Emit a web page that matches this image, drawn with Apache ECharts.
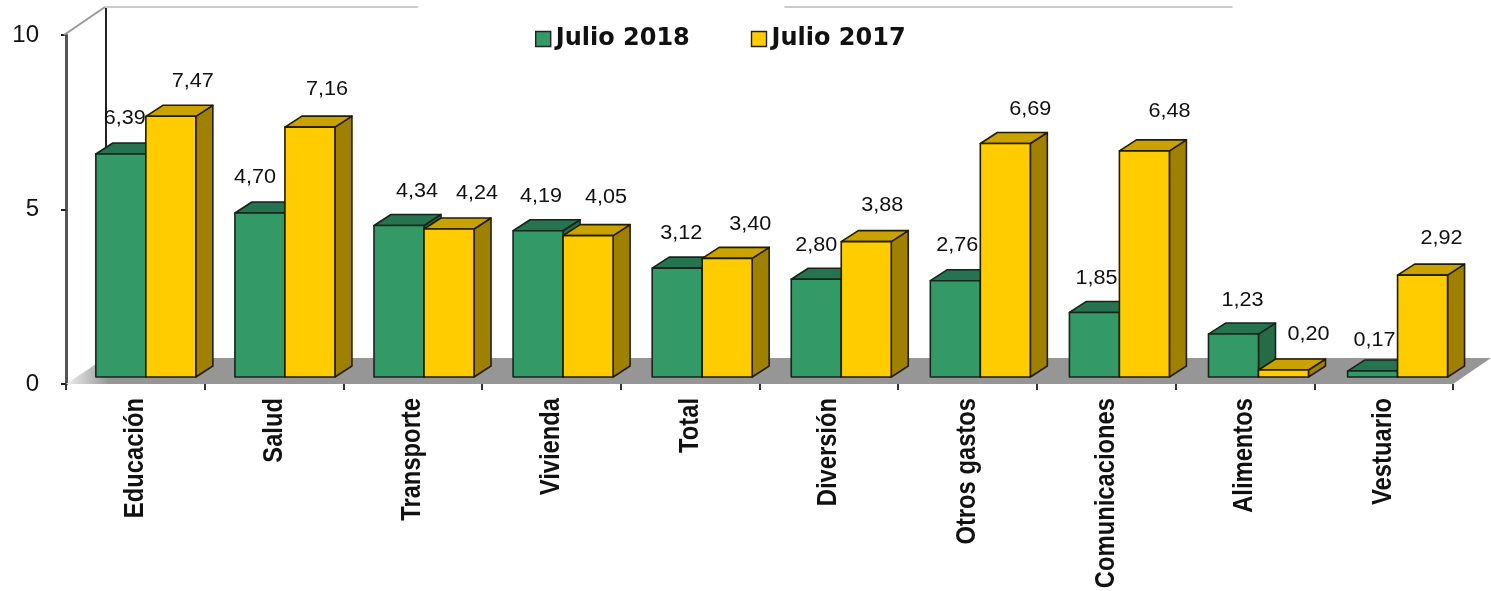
<!DOCTYPE html>
<html><head><meta charset="utf-8">
<script src="https://cdn.jsdelivr.net/npm/echarts@6/dist/echarts.min.js"></script>
<style>html,body{margin:0;padding:0;background:#fff}#c{width:1491px;height:591px}</style>
</head><body><div id="c"></div>
<script>
const categories = ['Educación','Salud','Transporte','Vivienda','Total','Diversión','Otros gastos','Comunicaciones','Alimentos','Vestuario'];
const julio2018 = [6.39,4.70,4.34,4.19,3.12,2.80,2.76,1.85,1.23,0.17];
const julio2017 = [7.47,7.16,4.24,4.05,3.40,3.88,6.69,6.48,0.20,2.92];
const yTicks = [0,5,10];

// label nudges (style only), relative to the top centre of each bar's front face
const nudge2018 = [[4,-37],[-5,-36],[18,-35],[3,-35],[4,-36],[0,-35],[2,-36],[2,-35],[9,-35],[2,-32]];
const nudge2017 = [[22,-36],[17,-39],[28,-37],[18,-39],[23,-35],[16,-37],[25,-35],[25,-40],[25,-37],[19,-38]];

const BAR_W = 50, DX = 17, DY = -11, LIFT = -7;
const styles = {
  a: {front:'#339966', top:'#267350', side:'#266b48', stroke:'#16241c'},
  b: {front:'#FFCC00', top:'#C9A200', side:'#A08000', stroke:'#231d00'}
};
function fmt(v){ return v.toFixed(2).replace('.',','); }

function barRenderer(s, sign, nudges){
  return function(params, api){
    const i = api.value(0), v = api.value(1);
    const c = api.coord([i, v]), base = api.coord([i, 0]);
    const center = c[0] + 10.5 + 0.38*i;
    const x0 = sign < 0 ? center - BAR_W : center, x1 = x0 + BAR_W;
    const yt = c[1] + LIFT, yb = base[1] + LIFT;
    const line = {stroke:s.stroke, lineWidth:1.6, lineJoin:'round'};
    const n = nudges[i];
    return {type:'group', children:[
      {type:'polygon', shape:{points:[[x1,yb],[x1+DX,yb+DY],[x1+DX,yt+DY],[x1,yt]]}, style:Object.assign({fill:s.side},line)},
      {type:'polygon', shape:{points:[[x0,yt],[x0+DX,yt+DY],[x1+DX,yt+DY],[x1,yt]]}, style:Object.assign({fill:s.top},line)},
      {type:'rect', shape:{x:x0,y:yt,width:BAR_W,height:yb-yt}, style:Object.assign({fill:s.front},line)},
      {type:'text', z2:50, x:(x0+x1)/2+n[0], y:yt+n[1]+1, scaleX:1.08, style:{text:fmt(v), align:'center', verticalAlign:'middle',
        fill:'#111', font:'20px "Liberation Sans", Arial, sans-serif'}}
    ]};
  };
}

function roomRenderer(params, api){
  const g = params.coordSys;
  const L = g.x, R = g.x+g.width, B = g.y+g.height, T = g.y;
  const dx = 39, dy = -26, w = g.width;
  const topY = T - 28;
  return {type:'group', children:[
    {type:'polygon', shape:{points:[[L,B],[R,B],[R+dx-1,B+dy],[L+dx,B+dy]]},
      style:{fill:new echarts.graphic.LinearGradient(0,0,1,0,[
        {offset:0,color:'#f0f0f0'},{offset:0.03,color:'#969696'},{offset:1,color:'#969696'}])}},
    {type:'line', shape:{x1:L+dx+1,y1:topY,x2:L+dx+1,y2:B+dy}, style:{stroke:'#222',lineWidth:2}},
    {type:'line', shape:{x1:L-2,y1:T,x2:L+dx,y2:topY}, style:{stroke:'#999',lineWidth:2}},
    {type:'line', shape:{x1:L+dx,y1:topY,x2:L+0.254*w,y2:topY}, style:{stroke:'#ccc',lineWidth:2}},
    {type:'line', shape:{x1:L+0.518*w,y1:topY,x2:L+0.841*w,y2:topY}, style:{stroke:'#ccc',lineWidth:2}}
  ]};
}

// Category labels: bold and horizontally condensed as in the reference
function catLabelRenderer(params, api){
  const i = api.value(0);
  const c = api.coord([i, 0]);
  return {type:'text', x:c[0], y:c[1]+14, rotation:Math.PI/2, scaleX:0.88,
    style:{text:categories[i], align:'right', verticalAlign:'middle', fill:'#111',
      font:'bold 27px "Liberation Sans", Arial, sans-serif'}};
}

const chart = echarts.init(document.getElementById('c'), null, {renderer:'canvas'});
chart.setOption({
  animation:false,
  backgroundColor:'#fff',
  grid:{left:66, right:38, top:35, bottom:207, containLabel:false, outerBoundsMode:'none'},
  legend:{
    left:530, top:22, itemWidth:15, itemHeight:15, itemGap:61,
    data:['Julio 2018','Julio 2017'], icon:'rect', selectedMode:false,
    itemStyle:{borderColor:'#222',borderWidth:1.4},
    textStyle:{fontFamily:'"DejaVu Sans", sans-serif',fontWeight:'bold',fontSize:24,color:'#111'}
  },
  xAxis:{
    type:'category', data:categories, boundaryGap:true,
    axisLine:{show:false},
    axisTick:{show:true,length:6,lineStyle:{color:'#333',width:2}},
    axisLabel:{show:false}
  },
  yAxis:{
    type:'value', min:yTicks[0], max:yTicks[2], interval:yTicks[1],
    splitLine:{show:false},
    axisLine:{show:true,lineStyle:{color:'#555',width:3}},
    axisTick:{show:true,length:5,lineStyle:{color:'#222',width:2}},
    axisLabel:{margin:27,color:'#111',fontSize:24,padding:[3,0,0,0],fontFamily:'"Liberation Sans",sans-serif'}
  },
  series:[
    {type:'custom',name:'room',silent:true,data:[[0,0]],renderItem:roomRenderer,z:1,encode:{x:0,y:1}},
    {type:'custom',name:'Julio 2018',itemStyle:{color:styles.a.front},z:2,encode:{x:0,y:1},
     data:julio2018.map((v,i)=>[i,v]),renderItem:barRenderer(styles.a,-1,nudge2018)},
    {type:'custom',name:'Julio 2017',itemStyle:{color:styles.b.front},z:3,encode:{x:0,y:1},
     data:julio2017.map((v,i)=>[i,v]),renderItem:barRenderer(styles.b,1,nudge2017)},
    {type:'custom',name:'labels',silent:true,z:4,encode:{x:0,y:1},
     data:categories.map((c,i)=>[i,0]),renderItem:catLabelRenderer}
  ]
});
</script></body></html>
